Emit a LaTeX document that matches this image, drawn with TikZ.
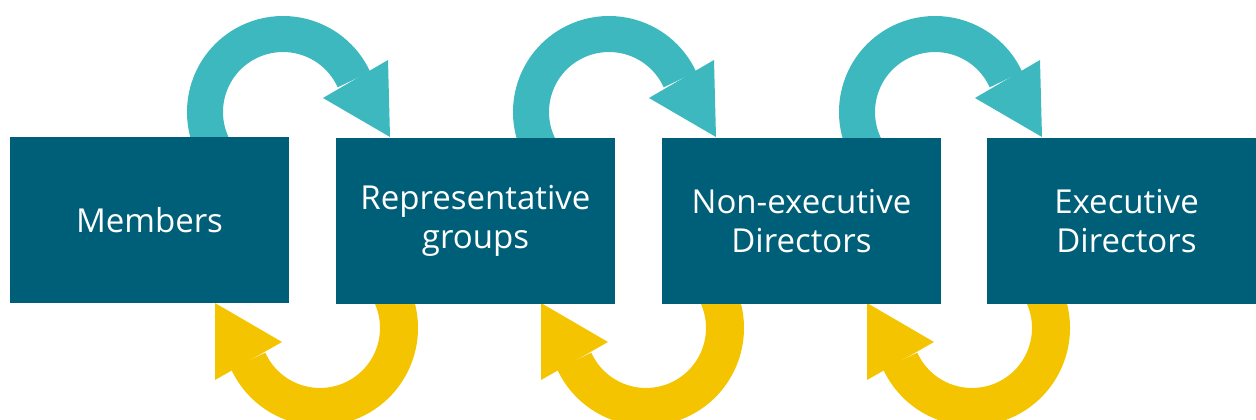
\documentclass[tikz,border=0pt]{standalone}
\usepackage{fontspec}
\setmainfont{Open Sans}
\usetikzlibrary{positioning, calc}

\definecolor{boxblue}{HTML}{005F78}
\definecolor{loopteal}{HTML}{3DB8BE}
\definecolor{loopyellow}{HTML}{F5C400}

\tikzset{
    govbox/.style={fill=boxblue, text=white, minimum width=279pt, minimum height=166pt,
        inner sep=0pt, align=center, font=\fontsize{33}{39}\selectfont},
    upband/.style={draw=loopteal, line width=36pt},
    downband/.style={draw=loopyellow, line width=38pt}
}

\begin{document}
\begin{tikzpicture}[x=1pt, y=1pt]

        \useasboundingbox (0,0) rectangle (1256,420);

        % Loops between each pair of boxes
        \foreach \i in {0,1,2} {
            \begin{scope}[xshift=326*\i]
                % feedback upwards (teal)
                \draw[upband] (283,308) ++(210:78) arc (210:24.6:78);
                \fill[loopteal] (388,360) -- (323,322) -- (390,283) -- cycle;
                % feedback downwards (yellow)
                \draw[downband] (320,92) ++(30:79) arc (30:-155.4:79);
                \fill[loopyellow] (215,117) -- (282,78) -- (215,40) -- cycle;
            \end{scope}
        }

        % Boxes
        \node[govbox] (members) at (149.5, 200) {Members};
        \node[govbox] (groups) at (475.5, 199) {Representative\\groups};
        \node[govbox] (nonexec) at (801.5, 199) {Non-executive\\Directors};
        \node[govbox] (exec) at (1126.5, 199) {Executive\\Directors};

\end{tikzpicture}
\end{document}
